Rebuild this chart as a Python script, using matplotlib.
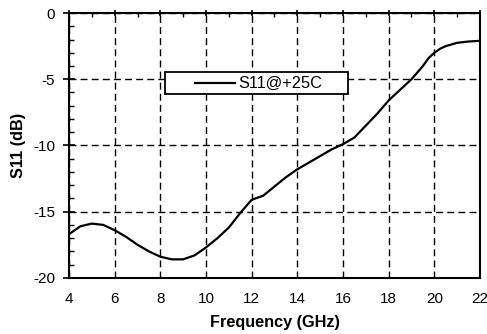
import matplotlib
matplotlib.use("Agg")
import matplotlib.pyplot as plt
from matplotlib.patches import Rectangle
from matplotlib.ticker import MultipleLocator

plt.rcParams['font.family'] = ['Liberation Sans', 'DejaVu Sans']
plt.rcParams['axes.unicode_minus'] = False

freq = [4, 4.5, 5, 5.5, 6, 6.5, 7, 7.5, 8, 8.5, 9, 9.5, 10, 10.5, 11, 11.5,
        12, 12.5, 13, 13.5, 14, 14.5, 15, 15.5, 16, 16.5, 17, 17.5, 18, 18.5,
        19, 19.5, 19.75, 20, 20.25, 20.5, 21, 21.5, 22]
s11 = [-16.7, -16.1, -15.9, -16.0, -16.4, -16.9, -17.5, -18.0, -18.4, -18.6,
       -18.6, -18.3, -17.7, -17.0, -16.2, -15.1, -14.1, -13.8, -13.1, -12.4,
       -11.8, -11.3, -10.8, -10.3, -9.9, -9.4, -8.5, -7.6, -6.6, -5.8,
       -5.0, -4.0, -3.4, -3.0, -2.7, -2.5, -2.25, -2.15, -2.1]
label = "S11@+25C"

fig = plt.figure(figsize=(4.87, 3.34), dpi=100)
ax = fig.add_axes([0.1417, 0.168, 0.8439, 0.793])

ax.plot(freq, s11, color='black', lw=1.6, solid_capstyle='round',
        solid_joinstyle='round')
ax.set_xlim(4, 22)
ax.set_ylim(-20, 0)
ax.xaxis.set_major_locator(MultipleLocator(2))
ax.yaxis.set_major_locator(MultipleLocator(5))
ax.xaxis.set_minor_locator(MultipleLocator(1))
ax.yaxis.set_minor_locator(MultipleLocator(1))

ax.grid(True, which='major', color='black', lw=1.0, linestyle=(0, (5, 3)))

for sp in ax.spines.values():
    sp.set_linewidth(1.5)

ax.tick_params(axis='x', which='major', bottom=False, top=True, direction='inout',
               length=5, width=1.2, labelsize=11, pad=8)
ax.tick_params(axis='x', which='minor', bottom=False, top=True, direction='in',
               length=3, width=1.0)
ax.tick_params(axis='y', which='major', left=True, right=False, direction='inout',
               length=8, width=1.2, labelsize=11, pad=6)
ax.tick_params(axis='y', which='minor', left=True, right=False, direction='in',
               length=3.5, width=1.0)
ax.set_yticks([0, -5, -10, -15, -20])

ax.set_xlabel("Frequency (GHz)", fontsize=11.7, fontweight='bold', labelpad=6)
ax.set_ylabel("S11 (dB)", fontsize=11.7, fontweight='bold', labelpad=5)

# legend box
ax.add_patch(Rectangle((0.234, 0.694), 0.445, 0.083, transform=ax.transAxes,
                       facecolor='white', edgecolor='black', lw=1.3, zorder=5))
ax.plot([0.307, 0.404], [0.736, 0.736], color='black', lw=1.6,
        transform=ax.transAxes, zorder=6)
ax.text(0.411, 0.736, label, transform=ax.transAxes, fontsize=11.8,
        va='center', ha='left', zorder=6)

fig.savefig("out.png", dpi=100)
